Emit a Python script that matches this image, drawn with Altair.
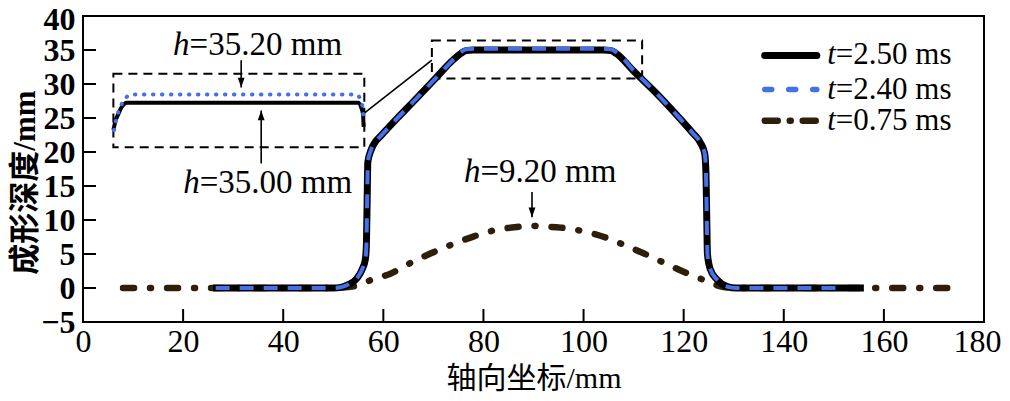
import altair as alt
import pandas as pd

# ---------------- data ----------------
# t = 2.50 ms (black solid)
x_250 = [26, 40, 50, 51.5, 53, 54.7, 55.8, 56.4, 56.6, 56.75, 56.9, 57.5, 58.4, 59.4,
         62.7, 66, 70, 74, 75.5, 76.5, 78, 92, 104, 105.5, 106.5, 110, 115, 119.4,
         121.8, 123.4, 124.2, 124.45, 124.6, 124.75, 125.3, 126.7, 128.7, 130.5, 140, 156]
y_250 = [0, 0, 0, 0.1, 0.5, 1.4, 2.8, 4.2, 6, 12, 18.5, 20.2, 21.5, 22.3,
         24.9, 27.4, 30.5, 33.6, 34.5, 34.9, 35.0, 35.0, 35.0, 34.9, 34.5, 31.9, 28.3, 24.8,
         22.8, 21.3, 19.8, 17, 11, 5, 2.8, 1.2, 0.2, 0, 0, 0]
# t = 2.40 ms (blue dashed)
x_240 = [26.5, 40, 50, 51.5, 53, 54.7, 55.8, 56.4, 56.6, 56.75, 56.9, 57.5, 58.4, 59.4,
         62.7, 66, 70, 74, 75.5, 76.5, 78, 92, 104, 105.5, 106.5, 110, 115, 119.4,
         121.8, 123.4, 124.2, 124.45, 124.6, 124.75, 125.3, 126.7, 128.7, 130.5, 140, 152]
y_240 = [0, 0, 0, 0.1, 0.5, 1.4, 2.8, 4.2, 6, 12, 18.5, 20.2, 21.5, 22.3,
         24.9, 27.4, 30.5, 33.6, 34.7, 35.1, 35.2, 35.2, 35.2, 35.1, 34.7, 32.0, 28.3, 24.8,
         22.8, 21.3, 19.8, 17, 11, 5, 2.8, 1.2, 0.2, 0, 0, 0]
# t = 0.75 ms (dash-dot)
x_075 = [8, 20, 30, 40, 50, 53, 55.5, 57.7, 61.4, 65.7, 69.4, 74.1, 78.1, 82.3, 86.7, 89.7,
         91.1, 95.4, 99.7, 104.1, 107.9, 112.1, 116.1, 120.1, 124.2, 128, 131, 140, 150, 160, 174]
y_075 = [0, 0, 0, 0, 0, 0.15, 0.5, 1.23, 2.1, 3.8, 5.06, 6.5, 7.6, 8.5, 8.97, 9.15,
         9.07, 8.88, 8.38, 7.5, 6.4, 5.06, 3.7, 2.35, 1.13, 0.15, 0, 0, 0, 0, 0]

# magnified inset (top plateau)
inset_x_250 = [6.07, 6.5, 7.07, 7.8, 8.73, 55.07, 55.6, 55.93, 56.07]
inset_y_250 = [23.2, 24.6, 25.6, 26.7, 27.26, 27.26, 26.5, 25.6, 23.7]
inset_x_240 = [6.2, 6.7, 7.4, 8.3, 9.5, 54.6, 55.4, 55.85, 56.07]
inset_y_240 = [23.2, 25.0, 26.5, 27.7, 28.44, 28.44, 27.8, 26.6, 24.3]

# dashed boxes: x, x2, y, y2
box_x = [6.07, 69.7]
box_x2 = [56.2, 111.7]
box_y = [20.7, 30.8]
box_y2 = [31.5, 36.4]
# connector line
conn_x = [56.0, 69.7]
conn_y = [25.6, 33.5]

# annotation arrows: x, start y, tip y
arrow_x = [31.6, 35.6, 89.7]
arrow_y_start = [33.5, 18.3, 14.1]
arrow_y_tip = [29.5, 26.1, 10.4]
arrow_dir = ["down", "up", "down"]

# annotation texts: anchor x (after italic h), baseline y, remaining text
ann_x = [21.3, 23.3, 79.4]
ann_y = [34.2, 13.93, 15.6]
ann_text = ["=35.20 mm", "=35.00 mm", "=9.20 mm"]

# legend
leg_labels = ["=2.50 ms", "=2.40 ms", "=0.75 ms"]
leg_line_y = [34.2, 29.2, 24.6]
leg_text_y = [32.9, 27.85, 23.2]
leg_x1 = 136.2
leg_x2 = 146.6
leg_text_x = 150.4

x_ticks = [0, 20, 40, 60, 80, 100, 120, 140, 160, 180]
y_ticks = [-5, 0, 5, 10, 15, 20, 25, 30, 35, 40]

BLUE = "#4470E8"
BROWN = "#2E1F0B"
SERIF = "Liberation Serif"
CJK = "Liberation Serif, Noto Sans CJK SC"

W, H = 901, 306

xs = alt.Scale(domain=[0, 180], nice=False, zero=False)
ys = alt.Scale(domain=[-5, 40], nice=False, zero=False)

x_axis = alt.Axis(values=x_ticks, title="轴向坐标/mm", grid=False, domain=False,
                  tickSize=0, labelPadding=4, labelFont=SERIF, labelFontSize=32,
                  labelColor="black", labelFlush=False, labelOverlap=False,
                  labelOffset={"condition": {"test": "datum.value == 180", "value": -7}, "value": 0},
                  titleFont=CJK, titleFontSize=30, titleFontWeight="normal",
                  titleColor="black", titleY=71, titleBaseline="bottom")
y_axis = alt.Axis(values=y_ticks, title="成形深度/mm", grid=False, domain=False,
                  tickSize=0, labelPadding=8, labelFont=SERIF, labelFontSize=32,
                  labelFontWeight="bold", labelColor="black", labelFlush=False,
                  labelOverlap=False,
                  labelOffset={"condition": {"test": "datum.value == 40", "value": 3}, "value": 0},
                  titleFont=CJK, titleFontSize=31,
                  titleFontWeight="bold", titleColor="black", titleX=-42, titleY=166,
                  titleAlign="center", titleBaseline="bottom")


def X(f="x"):
    return alt.X(f"{f}:Q", scale=xs, axis=x_axis)


def Y(f="y"):
    return alt.Y(f"{f}:Q", scale=ys, axis=y_axis)


def series(xv, yv):
    return pd.DataFrame({"x": xv, "y": yv, "i": range(len(xv))})


d250 = series(x_250, y_250)
d240 = series(x_240, y_240)
d075 = series(x_075, y_075)
di250 = series(inset_x_250, inset_y_250)
di240 = series(inset_x_240, inset_y_240)

l075 = alt.Chart(d075).mark_line(color=BROWN, strokeWidth=6.5, strokeDash=[11, 16, 1, 16],
                                 strokeCap="round", interpolate="monotone").encode(
    x=X(), y=Y(), order="i:Q")
l250 = alt.Chart(d250).mark_line(color="black", strokeWidth=7, interpolate="monotone").encode(
    x=X(), y=Y(), order="i:Q")
l240 = alt.Chart(d240).mark_line(color=BLUE, strokeWidth=4, strokeDash=[14, 10],
                                 interpolate="monotone").encode(x=X(), y=Y(), order="i:Q")

i250 = alt.Chart(di250).mark_line(color="black", strokeWidth=4, interpolate="monotone").encode(
    x=X(), y=Y(), order="i:Q")
i240 = alt.Chart(di240).mark_line(color=BLUE, strokeWidth=4, strokeDash=[0.5, 8.5],
                                  strokeCap="round", interpolate="monotone").encode(
    x=X(), y=Y(), order="i:Q")

boxes = alt.Chart(pd.DataFrame({"x": box_x, "x2": box_x2, "y": box_y, "y2": box_y2})).mark_rect(
    fill=None, stroke="black", strokeWidth=2, strokeDash=[9, 6]).encode(
    x=X(), x2="x2:Q", y=Y(), y2="y2:Q")

conn = alt.Chart(series(conn_x, conn_y)).mark_line(color="black", strokeWidth=1.6).encode(
    x=X(), y=Y(), order="i:Q")

arr_df = pd.DataFrame({"x": arrow_x, "y": arrow_y_start, "y2": arrow_y_tip, "dir": arrow_dir})
stems = alt.Chart(arr_df).mark_rule(color="black", strokeWidth=1.6).encode(
    x=X(), y=Y(), y2="y2:Q")
heads_down = alt.Chart(arr_df[arr_df.dir == "down"]).mark_point(
    shape="M-0.35,-1L0.35,-1L0,0Z", size=380, filled=True, color="black", opacity=1).encode(
    x=X(), y=Y("y2"))
heads_up = alt.Chart(arr_df[arr_df.dir == "up"]).mark_point(
    shape="M-0.35,1L0.35,1L0,0Z", size=380, filled=True, color="black", opacity=1).encode(
    x=X(), y=Y("y2"))

ann_df = pd.DataFrame({"x": ann_x, "y": ann_y, "t": ann_text, "h": ["h"] * 3})
ann_h = alt.Chart(ann_df).mark_text(font=SERIF, fontSize=33, fontStyle="italic", align="right",
                                    baseline="alphabetic", color="black").encode(
    x=X(), y=Y(), text="h:N")
ann_t = alt.Chart(ann_df).mark_text(font=SERIF, fontSize=33, align="left",
                                    baseline="alphabetic", color="black").encode(
    x=X(), y=Y(), text="t:N")

# legend
def leg_line(k, **kw):
    df = pd.DataFrame({"x": [leg_x1], "x2": [leg_x2], "y": [leg_line_y[k]]})
    return alt.Chart(df).mark_rule(**kw).encode(x=X(), x2="x2:Q", y=Y())


leg1 = leg_line(0, color="black", strokeWidth=7, strokeCap="round")
leg2 = leg_line(1, color=BLUE, strokeWidth=5.5, strokeDash=[7, 17], strokeCap="round")
leg3 = leg_line(2, color=BROWN, strokeWidth=6.5, strokeDash=[13, 12, 1, 12], strokeCap="round")

leg_df = pd.DataFrame({"x": [leg_text_x] * 3, "y": leg_text_y, "t": leg_labels, "h": ["t"] * 3})
leg_t_it = alt.Chart(leg_df).mark_text(font=SERIF, fontSize=31, fontStyle="italic", align="right",
                                       baseline="alphabetic", color="black").encode(
    x=X(), y=Y(), text="h:N")
leg_t = alt.Chart(leg_df).mark_text(font=SERIF, fontSize=31, align="left",
                                    baseline="alphabetic", color="black").encode(
    x=X(), y=Y(), text="t:N")

# inward ticks
xt = alt.Chart(pd.DataFrame({"x": x_ticks})).mark_rule(color="black", strokeWidth=2).encode(
    x=X(), y=alt.value(H), y2=alt.value(H - 13))
yt = alt.Chart(pd.DataFrame({"y": y_ticks})).mark_rule(color="black", strokeWidth=2).encode(
    y=Y(), x=alt.value(0), x2=alt.value(13))

chart = alt.layer(
    xt, yt, boxes, conn, i250, i240, stems, heads_down, heads_up, ann_h, ann_t,
    l075, l250, l240, leg1, leg2, leg3, leg_t_it, leg_t
).properties(
    width=W, height=H,
    autosize=alt.AutoSizeParams(type="none"),
    padding={"left": 75, "top": 8, "right": 18, "bottom": 71},
    background="white",
).configure_view(stroke="black", strokeWidth=2)

chart.save("out.html", embed_options={"renderer": "svg", "actions": False})
